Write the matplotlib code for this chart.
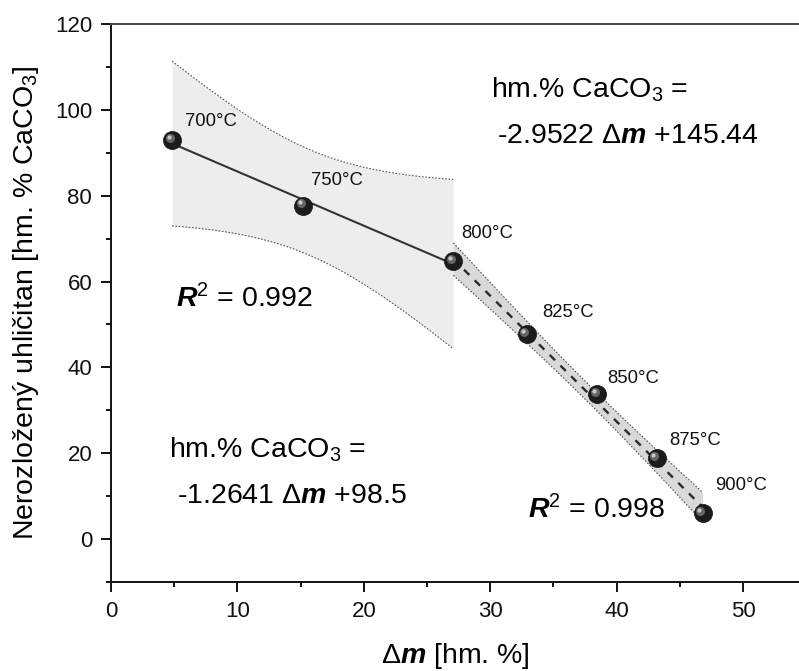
import numpy as np
import matplotlib
matplotlib.use('Agg')
import matplotlib.pyplot as plt
from matplotlib.ticker import MultipleLocator
from matplotlib import transforms

plt.rcParams['font.family'] = ['Liberation Sans', 'DejaVu Sans']
plt.rcParams['mathtext.fontset'] = 'custom'
plt.rcParams['mathtext.rm'] = 'Liberation Sans'
plt.rcParams['mathtext.it'] = 'Liberation Sans:italic'
plt.rcParams['mathtext.bf'] = 'Liberation Sans:bold'
plt.rcParams['mathtext.bfit'] = 'Liberation Sans:italic:bold'

# measured points (mass loss vs. undecomposed carbonate)
temps = ['700°C', '750°C', '800°C', '825°C', '850°C', '875°C', '900°C']
dm = np.array([4.83, 15.2, 27.08, 32.9, 38.47, 43.17, 46.8])
caco3 = np.array([92.9, 77.7, 64.7, 47.7, 33.7, 18.8, 6.0])

# two linear regions, 800°C belongs to both
low = slice(0, 3)
high = slice(2, 7)
t_low = 12.706   # t(0.975, df=1)
t_high = 3.182   # t(0.975, df=3)

eq_high = ['hm.% CaCO$_3$ =', '-2.9522 Δ$\\mathbfit{m}$ +145.44']
eq_low = ['hm.% CaCO$_3$ =', '-1.2641 Δ$\\mathbfit{m}$ +98.5']
r2_low = '$\\mathbfit{R}^2$ = 0.992'
r2_high = '$\\mathbfit{R}^2$ = 0.998'


def fit_band(x, y, t, num=200):
    """Linear fit with confidence band."""
    n = len(x)
    slope, icpt = np.polyfit(x, y, 1)
    resid = y - (slope * x + icpt)
    s = np.sqrt(np.sum(resid ** 2) / (n - 2))
    xm = x.mean()
    xs = np.linspace(x.min(), x.max(), num)
    half = t * s * np.sqrt(1 / n + (xs - xm) ** 2 / np.sum((x - xm) ** 2))
    fit = slope * xs + icpt
    return xs, fit, fit - half, fit + half


fig = plt.figure(figsize=(7.99, 6.71), dpi=100)
ax = fig.add_axes([111 / 799, 89 / 671, 688 / 799, 558 / 671])

# low-temperature fit
xs, fit, lo, hi = fit_band(dm[low], caco3[low], t_low)
ax.fill_between(xs, lo, hi, color='#ededed', lw=0, zorder=1)
ax.plot(xs, lo, ls=(0, (1.5, 1.5)), color='#555555', lw=0.8, zorder=2)
ax.plot(xs, hi, ls=(0, (1.5, 1.5)), color='#555555', lw=0.8, zorder=2)
ax.plot(xs, fit, color='#333333', lw=1.5, zorder=3)

# high-temperature fit
xs, fit, lo, hi = fit_band(dm[high], caco3[high], t_high)
ax.fill_between(xs, lo, hi, color='#d9d9d9', lw=0, zorder=1)
ax.plot(xs, lo, ls=(0, (1.5, 1.5)), color='#555555', lw=0.8, zorder=2)
ax.plot(xs, hi, ls=(0, (1.5, 1.5)), color='#555555', lw=0.8, zorder=2)
ax.plot(xs, fit, color='#2a2a2a', lw=1.7, dashes=(3.2, 3.2), zorder=3)

# glossy spheres
ax.plot(dm, caco3, 'o', ms=13, color='#1c1c1c', mec='#111111', mew=0.5, zorder=5)
shine = transforms.offset_copy(ax.transData, fig=fig, x=-2.5, y=2.5, units='dots')
ax.plot(dm, caco3, 'o', ms=6.5, color='#6e6e6e', mew=0, alpha=0.9,
        transform=shine, zorder=6)
shine2 = transforms.offset_copy(ax.transData, fig=fig, x=-3.5, y=3.5, units='dots')
ax.plot(dm, caco3, 'o', ms=3, color='#c8c8c8', mew=0, transform=shine2, zorder=7)

label_offsets = [(13, 14.7), (8, 20.7), (8, 23.4), (15, 17.7),
                 (10, 11), (12.6, 13.3), (12.3, 23)]
for t, x, y, off in zip(temps, dm, caco3, label_offsets):
    ax.annotate(t, (x, y), xytext=off, textcoords='offset pixels',
                ha='left', va='baseline', fontsize=13.3, color='#111111')

# equations and R^2
ax.text(30.04, 102.8, eq_high[0], fontsize=20.5, va='baseline')
ax.text(30.5, 92.3, eq_high[1], fontsize=20.5, va='baseline')
ax.text(4.61, 19.1, eq_low[0], fontsize=20.5, va='baseline')
ax.text(5.2, 8.5, eq_low[1], fontsize=20.5, va='baseline')
ax.text(5.12, 53.95, r2_low, fontsize=20.5, va='baseline')
ax.text(32.97, 4.8, r2_high, fontsize=20.5, va='baseline')

ax.set_xlim(0, 688 / 12.64)
ax.set_ylim(-10, 120)
ax.xaxis.set_major_locator(MultipleLocator(10))
ax.xaxis.set_minor_locator(MultipleLocator(5))
ax.yaxis.set_major_locator(MultipleLocator(20))
ax.yaxis.set_minor_locator(MultipleLocator(10))

for side in ['left', 'bottom', 'top']:
    ax.spines[side].set_linewidth(1.4)
    ax.spines[side].set_color('#111111')
ax.spines['top'].set_color('#444444')
ax.spines['right'].set_visible(False)

ax.tick_params(which='major', direction='out', length=7.5, width=1.4,
               labelsize=16, pad=6, colors='#111111')
ax.tick_params(which='minor', direction='out', length=3.8, width=1.4,
               colors='#111111')
ax.tick_params(top=False, right=False)

ax.set_xlabel('Δ$\\mathbfit{m}$ [hm. %]', fontsize=20.5, labelpad=14)
ax.set_ylabel('Nerozložený uhličitan [hm. % CaCO$_3$]', fontsize=20.5, labelpad=10)

fig.savefig('out.png', dpi=100)
